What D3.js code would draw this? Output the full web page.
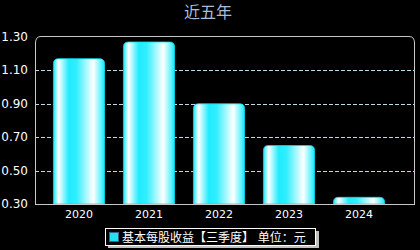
<!DOCTYPE html>
<html>
<head>
<meta charset="utf-8">
<script src="https://d3js.org/d3.v7.min.js"></script>
<style>
  body { margin: 0; background: #000; }
  svg { display: block; font-family: "DejaVu Sans", "Noto Sans CJK SC", sans-serif; }
</style>
</head>
<body>
<script>
// data
const years = ["2020", "2021", "2022", "2023", "2024"];
const eps = [1.17, 1.27, 0.90, 0.65, 0.34];
const yTicks = [0.30, 0.50, 0.70, 0.90, 1.10, 1.30];

const W = 420, H = 250;
const plot = {left: 35, right: 415, top: 37, bottom: 204};

const svg = d3.select("body").append("svg")
    .attr("width", W).attr("height", H);

svg.append("rect").attr("width", W).attr("height", H).attr("fill", "#000");

const defs = svg.append("defs");
const grad = defs.append("linearGradient").attr("id", "barGrad")
    .attr("x1", "0%").attr("x2", "100%").attr("y1", "0%").attr("y2", "0%");
[[0, "#10e8ff"], [0.1, "#ffffff"], [0.3, "#20ecff"], [0.45, "#30eeff"], [0.78, "#ffffff"], [0.92, "#70f4ff"], [1, "#10e8ff"]]
  .forEach(s => grad.append("stop").attr("offset", s[0]).attr("stop-color", s[1]));

const x = d3.scaleBand().domain(years).range([44, 394]).paddingInner(0.27).paddingOuter(0.135);
const y = d3.scaleLinear().domain([0.3, 1.3]).range([plot.bottom, plot.top]);

// title
svg.append("text").attr("x", 208).attr("y", 18)
    .attr("text-anchor", "middle").attr("fill", "#a8bcd8")
    .style("font-size", "16px").text("近五年");

// grid lines
svg.append("g").selectAll("line")
  .data(yTicks.filter(t => t > 0.31 && t < 1.29))
  .enter().append("line")
    .attr("x1", plot.left).attr("x2", plot.right)
    .attr("y1", d => Math.round(y(d)) + 0.5).attr("y2", d => Math.round(y(d)) + 0.5)
    .attr("stroke", "#b8dcec").attr("stroke-width", 1)
    .attr("stroke-dasharray", "4,2");

// frame with rounded top corners
const r = 6;
svg.append("path")
    .attr("d", `M${plot.left + 0.5},${plot.bottom + 0.5} V${plot.top + r} Q${plot.left + 0.5},${plot.top - 0.5} ${plot.left + r},${plot.top - 0.5} H${plot.right - r} Q${plot.right - 0.5},${plot.top - 0.5} ${plot.right - 0.5},${plot.top + r} V${plot.bottom + 0.5}`)
    .attr("fill", "none").attr("stroke", "#c8c8c8").attr("stroke-width", 1);

// bars with rounded tops
function barPath(x0, w, yt, yb) {
  const rr = Math.min(5, (yb - yt));
  return `M${x0},${yb} V${yt + rr} Q${x0},${yt} ${x0 + rr},${yt} H${x0 + w - rr} Q${x0 + w},${yt} ${x0 + w},${yt + rr} V${yb} Z`;
}
svg.append("g").selectAll("path")
  .data(years.map((yr, i) => ({yr, v: eps[i]})))
  .enter().append("path")
    .attr("d", d => barPath(x(d.yr), x.bandwidth(), y(d.v), plot.bottom))
    .attr("fill", "url(#barGrad)")
    .attr("stroke", "#00e0f0").attr("stroke-width", 0.8);

// bottom axis line
svg.append("line").attr("x1", plot.left).attr("x2", plot.right)
    .attr("y1", plot.bottom + 0.5).attr("y2", plot.bottom + 0.5)
    .attr("stroke", "#c8c8c8");

// y labels
svg.append("g").selectAll("text")
  .data(yTicks).enter().append("text")
    .attr("x", 28).attr("y", d => y(d) + 4)
    .attr("text-anchor", "end").attr("fill", "#fff")
    .style("font-size", "12px").text(d => d.toFixed(2));

// x labels
svg.append("g").selectAll("text")
  .data(years).enter().append("text")
    .attr("x", d => x(d) + x.bandwidth() / 2).attr("y", 218)
    .attr("text-anchor", "middle").attr("fill", "#fff")
    .style("font-size", "11px").text(d => d);

// legend
const lg = svg.append("g");
lg.append("rect").attr("x", 108).attr("y", 231).attr("width", 211).attr("height", 17).attr("fill", "#c0c0c0");
lg.append("rect").attr("x", 105.5).attr("y", 228.5).attr("width", 210).attr("height", 17)
    .attr("fill", "#000").attr("stroke", "#fff").attr("stroke-width", 1);
lg.append("rect").attr("x", 109.5).attr("y", 232.5).attr("width", 9).attr("height", 9)
    .attr("fill", "#20e0f0").attr("stroke", "#406080");
lg.append("text").attr("x", 122).attr("y", 242).attr("fill", "#fff")
    .style("font-size", "12px").text("基本每股收益【三季度】 单位：元");
</script>
</body>
</html>
